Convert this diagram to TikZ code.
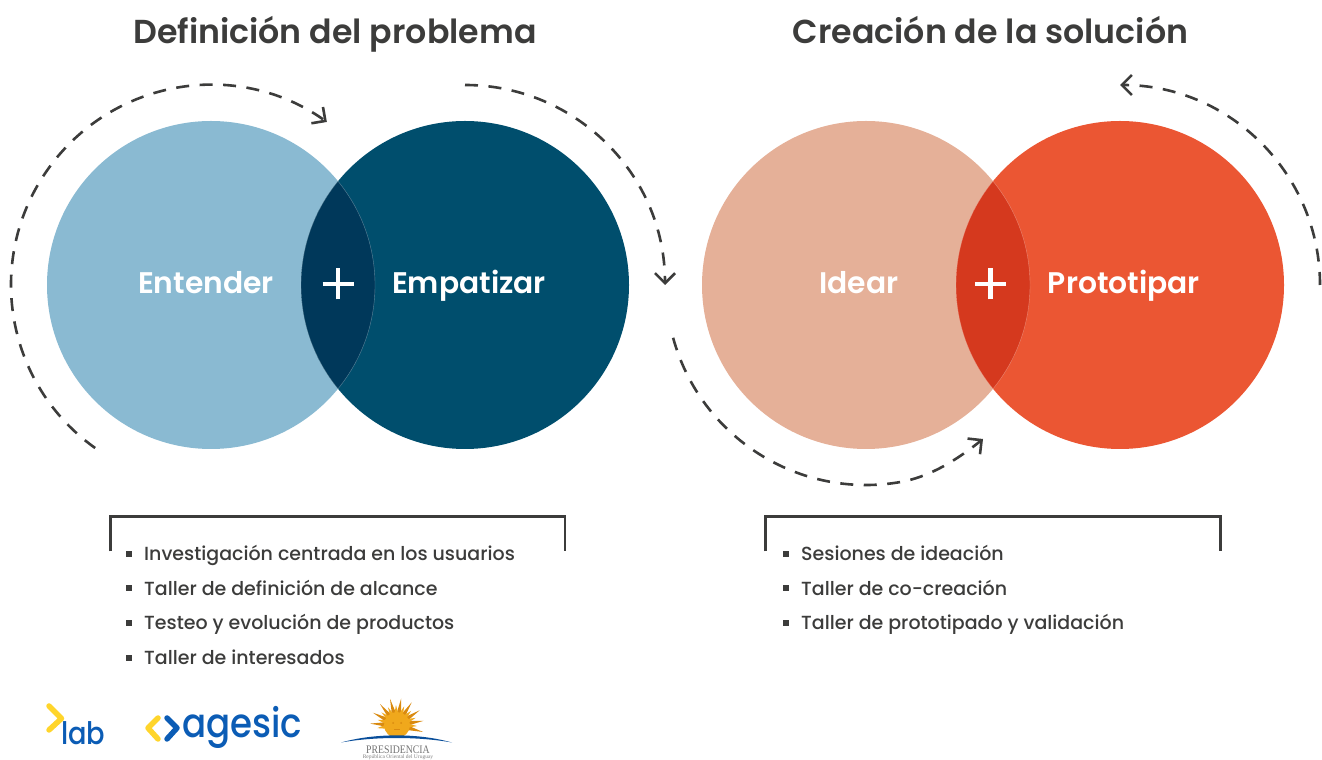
\documentclass[tikz,border=0pt]{standalone}
\usepackage{fontspec}
\setmainfont{Poppins Medium}
\newfontfamily\titlefont{Poppins SemiBold}
\newfontfamily\logofont{Poppins Medium}
\newfontfamily\presfont{Liberation Serif}
\usetikzlibrary{arrows.meta,shapes.geometric,calc}
\definecolor{cLight}{HTML}{8ABAD2}
\definecolor{cDark}{HTML}{004E6D}
\definecolor{cLensB}{HTML}{00385A}
\definecolor{cPeach}{HTML}{E5B098}
\definecolor{cOrange}{HTML}{EB5633}
\definecolor{cLensO}{HTML}{D5391E}
\definecolor{cInk}{HTML}{3C3C3B}
\definecolor{cYellow}{HTML}{FFD52B}
\definecolor{cBlue}{HTML}{0B5CB5}
\definecolor{cSun}{HTML}{F0A81C}
\definecolor{cSunDark}{HTML}{D98A10}
\tikzset{
 x=1pt,y=1pt,
 disc/.style={circle,minimum size=328pt,inner sep=0pt,outer sep=0pt},
 flow/.style={draw=cInk,line width=2.6pt,dash pattern=on 13pt off 10.5pt,-{Straight Barb[length=10pt,width=20pt,line width=2.6pt]}},
 bracketline/.style={draw=cInk,line width=2.5pt,line cap=butt},
 maintitle/.style={text=cInk,font=\titlefont\fontsize{33.2}{36}\selectfont,inner sep=0pt,anchor=base},
 disclabel/.style={text=white,font=\titlefont\fontsize{29.8}{32}\selectfont,inner sep=0pt,anchor=base},
 itemtext/.style={text=cInk,font=\fontsize{19}{22}\selectfont,inner sep=0pt,anchor=base west},
 itembullet/.style={fill=cInk,minimum size=5.5pt,inner sep=0pt,outer sep=0pt},
 pluscross/.style={draw=white,line width=4.4pt},
 lensedge/.style={draw=white,draw opacity=.35,line width=.4pt},
 chevy/.style={draw=cYellow,line width=5.5pt,line cap=round,line join=round},
 chevb/.style={draw=cBlue,line width=5.5pt,line cap=round,line join=round},
 logotext/.style={text=cBlue,inner sep=0pt,anchor=base west,xscale=.88,transform shape},
}
\begin{document}
\begin{tikzpicture}
\useasboundingbox (0,0) rectangle (1322,760);
% discs (y = 760 - pixel y)
\node[disc,fill=cLight] (entender) at (211,475) {};
\node[disc,fill=cDark] (empatizar) at (465,475) {};
\node[disc,fill=cPeach] (idear) at (866,475) {};
\node[disc,fill=cOrange] (prototipar) at (1120,475) {};
% lenses
\begin{scope}
 \clip (211,475) circle[radius=164];
 \fill[cLensB] (465,475) circle[radius=164];
 \draw[lensedge] (465,475) circle[radius=164];
\end{scope}
\begin{scope}
 \clip (465,475) circle[radius=164];
 \draw[lensedge] (211,475) circle[radius=164];
\end{scope}
\begin{scope}
 \clip (866,475) circle[radius=164];
 \fill[cLensO] (1120,475) circle[radius=164];
 \draw[lensedge] (1120,475) circle[radius=164];
\end{scope}
\begin{scope}
 \clip (1120,475) circle[radius=164];
 \draw[lensedge] (866,475) circle[radius=164];
\end{scope}
% titles
\node[maintitle] (titleA) at (335,716.5) {Definición del problema};
\node[maintitle] (titleB) at (990.5,716.5) {Creación de la solución};
% disc labels
\node[disclabel] (lEnt) at (206,466.5) {Entender};
\node[disclabel] (lEmp) at (469,466.5) {Empatizar};
\node[disclabel] (lIde) at (859,466.5) {Idear};
\node[disclabel] (lPro) at (1124,466.5) {Prototipar};
% plus signs
\coordinate (plusA) at (338,476);
\coordinate (plusB) at (990.5,476);
\draw[pluscross] ($(plusA)+(-15.5,0)$) -- ($(plusA)+(15.5,0)$);
\draw[pluscross] ($(plusA)+(0,-15.5)$) -- ($(plusA)+(0,15.5)$);
\draw[pluscross] ($(plusB)+(-15.5,0)$) -- ($(plusB)+(15.5,0)$);
\draw[pluscross] ($(plusB)+(0,-15.5)$) -- ($(plusB)+(0,15.5)$);
% flow arcs
\coordinate (fa) at ($(entender.center)+(234.6:200)$);
\coordinate (fb) at ($(empatizar.center)+(90:200)$);
\coordinate (fc) at ($(idear.center)+(195.3:200)$);
\coordinate (fd) at ($(prototipar.center)+(0:200)$);
\coordinate (fcEnd) at (983,321);
\draw[flow] (fa) arc[start angle=234.6,end angle=54.6,radius=200];
\draw[flow] (fb) arc[start angle=90,end angle=0,radius=200];
\draw[flow] (fc) arc[start angle=195.3,end angle=280,radius=200] .. controls (930.7,283.3) and (958,301) .. (fcEnd);
\draw[flow] (fd) arc[start angle=0,end angle=90,radius=200];
% brackets
\draw[bracketline] (110.5,208.5) -- (110.5,243.5) -- (565,243.5) -- (565,208.5);
\draw[bracketline] (765.5,208.5) -- (765.5,243.5) -- (1220.5,243.5) -- (1220.5,208.5);
% lists
\foreach \i/\ty/\by/\txt in {a/199/206/Investigación centrada en los usuarios,b/164.5/172/Taller de definición de alcance,c/130/137/Testeo y evolución de productos,d/95/102/Taller de interesados}{
 \node[itembullet] (bul\i) at (129,\by) {};
 \node[itemtext] (item\i) at (144,\ty) {\txt};
}
\foreach \i/\ty/\by/\txt in {e/199/206/Sesiones de ideación,f/164.5/172/Taller de co-creación,g/130/137/Taller de prototipado y validación}{
 \node[itembullet] (bul\i) at (786,\by) {};
 \node[itemtext] (item\i) at (801,\ty) {\txt};
}
% lab logo
\draw[chevy] (49,54) -- (61.5,41.5) -- (49,30);
\node[logotext,font=\logofont\fontsize{31}{31}\selectfont] (labtxt) at (61,15) {lab};
% agesic logo
\draw[chevy] (158,42) -- (148,32) -- (158,21);
\draw[chevb] (167,42) -- (177,32) -- (167,21);
\node[logotext,font=\logofont\fontsize{40.5}{41}\selectfont] (agtxt) at (182,22) {agesic};
% presidencia logo
\coordinate (sun) at (397,35);
\foreach \a in {-15,9,...,200}{
 \fill[cSunDark] ($(sun)+(\a-12:11)$) -- ($(sun)+(\a:27)$) -- ($(sun)+(\a+12:11)$) -- cycle;
}
\foreach \a in {-3,21,...,190}{
 \fill[cSun] ($(sun)+(\a-11:11)$) -- ($(sun)+(\a:20)$) -- ($(sun)+(\a+11:11)$) -- cycle;
}
\fill[cSun] (sun) circle[radius=13];
\fill[cSunDark] ($(sun)+(-4,2)$) circle[radius=1];
\fill[cSunDark] ($(sun)+(4,2)$) circle[radius=1];
\draw[cSunDark,line width=.7pt] ($(sun)+(-3,-4)$) -- ($(sun)+(3,-4)$);
\fill[white] (336,12) rectangle (458,24);
\fill[cBlue!85!black] (341,17.5) .. controls (375,27) and (418,27) .. (452,17.5) .. controls (418,23.5) and (375,23.5) .. (341,17.5) -- cycle;
\node[text=gray!90!black,font=\presfont\fontsize{11.5}{12}\selectfont,inner sep=0pt,anchor=base,xscale=.85,transform shape] (prestxt) at (398,6) {PRESIDENCIA};
\node[text=gray,font=\presfont\fontsize{5.5}{6}\selectfont,inner sep=0pt,anchor=base] (pressub) at (398,1.2) {República Oriental del Uruguay};
\end{tikzpicture}
\end{document}
